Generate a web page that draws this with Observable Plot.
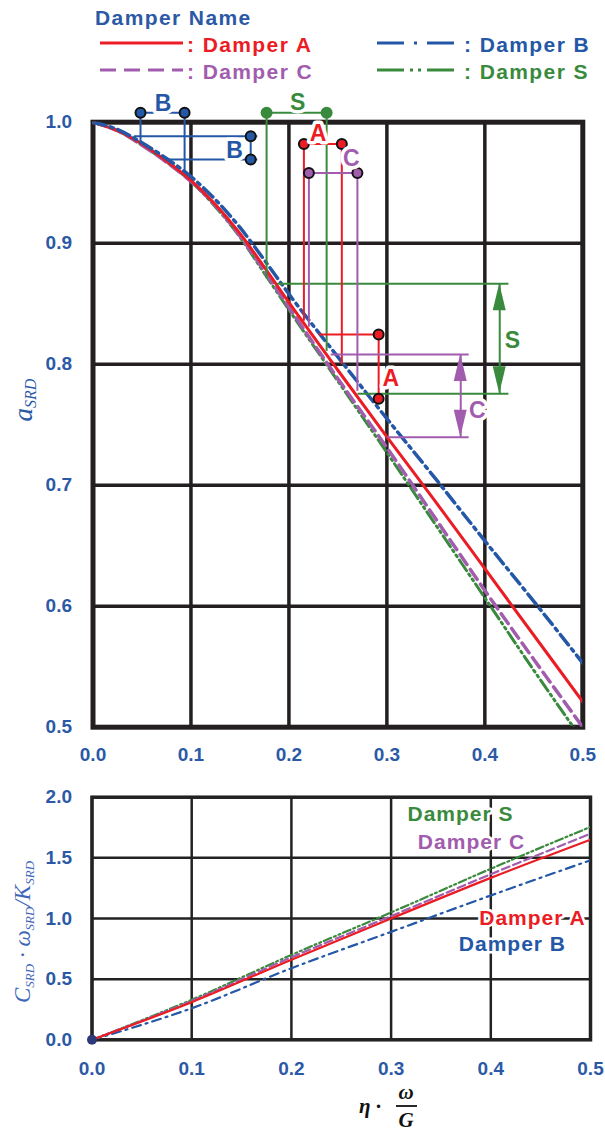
<!DOCTYPE html>
<html><head><meta charset="utf-8">
<script src="https://cdn.jsdelivr.net/npm/d3@7"></script>
<script src="https://cdn.jsdelivr.net/npm/@observablehq/plot@0.6"></script>
<style>
html,body{margin:0;padding:0;background:#fff;overflow:hidden;}
#wrap{position:relative;width:605px;height:1137px;overflow:hidden;}
#wrap > svg{position:absolute;left:0;}
</style></head>
<body><div id="wrap"></div>
<script>
// ---------------- data ----------------
const etaTop = [0,0.025,0.05,0.075,0.1,0.125,0.15,0.175,0.2,0.25,0.3,0.35,0.4,0.45,0.5];
const aSRD_A = [1.000,0.993,0.982,0.968,0.952,0.932,0.908,0.880,0.851,0.795,0.740,0.686,0.631,0.576,0.521];
const aSRD_B = [1.000,0.994,0.983,0.970,0.955,0.936,0.913,0.886,0.858,0.806,0.755,0.705,0.654,0.604,0.553];
const aSRD_C = [1.000,0.993,0.981,0.967,0.951,0.931,0.906,0.877,0.847,0.788,0.731,0.672,0.613,0.556,0.500];
const aSRD_S = [1.000,0.993,0.981,0.967,0.951,0.930,0.905,0.875,0.845,0.786,0.727,0.667,0.607,0.547,0.489];

const etaBottom = [0,0.1,0.2,0.3,0.4,0.5];
const cSRD_A = [0,0.31,0.66,1.00,1.335,1.65];
const cSRD_B = [0,0.26,0.59,0.89,1.19,1.48];
const cSRD_C = [0,0.32,0.68,1.02,1.365,1.70];
const cSRD_S = [0,0.33,0.70,1.05,1.41,1.755];

const xTicks = [0,0.1,0.2,0.3,0.4,0.5];
const yTicksTop = [0.5,0.6,0.7,0.8,0.9,1.0];
const yTicksBottom = [0,0.5,1.0,1.5,2.0];

const damperKeys = ["A","B","C","S"];
const damperNames = ["Damper A","Damper B","Damper C","Damper S"];

// annotation brackets (data units)
const bracketSegments = [
  {d:"B",x1:0.0485,y1:1.0078,x2:0.0935,y2:1.0078},
  {d:"B",x1:0.0485,y1:1.0078,x2:0.0485,y2:0.9835},
  {d:"B",x1:0.0935,y1:1.0078,x2:0.0935,y2:0.9587},
  {d:"B",x1:0.0417,y1:0.9884,x2:0.1677,y2:0.9884},
  {d:"B",x1:0.0758,y1:0.9692,x2:0.1677,y2:0.9692},
  {d:"B",x1:0.161,y1:0.9884,x2:0.161,y2:0.9692},
  {d:"S",x1:0.1772,y1:1.0078,x2:0.2385,y2:1.0078},
  {d:"S",x1:0.1772,y1:1.0078,x2:0.1772,y2:0.871},
  {d:"S",x1:0.2385,y1:1.0078,x2:0.2385,y2:0.811},
  {d:"S",x1:0.188,y1:0.8664,x2:0.4241,y2:0.8664},
  {d:"S",x1:0.270,y1:0.7755,x2:0.4241,y2:0.7755},
  {d:"A",x1:0.2153,y1:0.982,x2:0.254,y2:0.982},
  {d:"A",x1:0.2153,y1:0.982,x2:0.2153,y2:0.836},
  {d:"A",x1:0.254,y1:0.982,x2:0.254,y2:0.800},
  {d:"A",x1:0.2306,y1:0.8245,x2:0.2916,y2:0.8245},
  {d:"A",x1:0.2916,y1:0.8245,x2:0.2916,y2:0.7714},
  {d:"C",x1:0.2204,y1:0.958,x2:0.2699,y2:0.958},
  {d:"C",x1:0.2204,y1:0.958,x2:0.2204,y2:0.831},
  {d:"C",x1:0.2699,y1:0.958,x2:0.2699,y2:0.778},
  {d:"C",x1:0.2426,y1:0.808,x2:0.3835,y2:0.808},
  {d:"C",x1:0.3004,y1:0.7397,x2:0.3835,y2:0.7397}
];
const bracketArrows = [
  {d:"S",x:0.4152,y1:0.8664,y2:0.7755},
  {d:"C",x:0.3754,y1:0.808,y2:0.7397}
];
const bracketDots = [
  {d:"B",x:0.0485,y:1.0078},{d:"B",x:0.0935,y:1.0078},{d:"B",x:0.161,y:0.9884},{d:"B",x:0.161,y:0.9692},
  {d:"S",x:0.1772,y:1.0078},{d:"S",x:0.2385,y:1.0078},
  {d:"A",x:0.2153,y:0.982},{d:"A",x:0.254,y:0.982},{d:"A",x:0.2916,y:0.8245},{d:"A",x:0.2916,y:0.7714},
  {d:"C",x:0.2204,y:0.958},{d:"C",x:0.2699,y:0.958}
];
const bracketLabels = [
  {d:"B",x:0.0716,y:1.0152},{d:"B",x:0.1446,y:0.9766},
  {d:"S",x:0.2089,y:1.0165},{d:"S",x:0.4282,y:0.8196},
  {d:"A",x:0.2298,y:0.9904},{d:"A",x:0.304,y:0.788},
  {d:"C",x:0.2638,y:0.9698},{d:"C",x:0.3924,y:0.7618}
];
const bottomLabels = [
  {d:"S",text:"Damper S",x:0.3696,y:1.857},
  {d:"C",text:"Damper C",x:0.3806,y:1.627},
  {d:"A",text:"Damper A",x:0.4418,y:1.000},
  {d:"B",text:"Damper B",x:0.4217,y:0.785}
];

// ---------------- styles ----------------
const textBlue = "#2b59a6";
const gridColor = "#231f20";
const col = {A:"#ec1c24", B:"#2457a6", C:"#a25cae", S:"#3a8a3e"};
const dotStroke = {A:"#111", B:"#111", C:"#111", S:"#3a8a3e"};
const dashTop = {A:null, B:"13,5,3,5", C:"12,6", S:"13,4,2,4,2,4"};
const widthTop = {A:3, B:3.5, C:3.5, S:3};
const dashBot = {A:null, B:"9,5,2,5", C:"8,4", S:"8,3,2,3,2,3"};
const dashLeg = {A:null, B:"27,10,3,10", C:"16,8", S:"27,6,3,5,3,6"};
const sans = "'Liberation Sans', Arial, Helvetica, sans-serif";
const serif = "'Liberation Serif', 'Times New Roman', serif";

const topSeries = {A:aSRD_A, B:aSRD_B, C:aSRD_C, S:aSRD_S};
const botSeries = {A:cSRD_A, B:cSRD_B, C:cSRD_C, S:cSRD_S};
const rows = (xs, ys) => xs.map((x,i)=>({x, y:ys[i]}));

const wrap = document.getElementById("wrap");

// ---------------- legend ----------------
const leg = d3.create("svg").attr("width",605).attr("height",85).style("top","0px");
leg.append("text").attr("x",95).attr("y",25).attr("fill",textBlue)
  .attr("font-family",sans).attr("font-weight","bold").attr("font-size",21)
  .style("letter-spacing","1.4px").text("Damper Name");
damperKeys.forEach((k,i)=>{
  const cx = (i%2===0) ? 100 : 377;
  const cy = (i<2) ? 43 : 70;
  const ln = leg.append("line").attr("x1",cx).attr("x2",cx+83).attr("y1",cy).attr("y2",cy)
    .attr("stroke",col[k]).attr("stroke-width",3);
  if (dashLeg[k]) ln.attr("stroke-dasharray",dashLeg[k]);
  leg.append("text").attr("x",cx+87).attr("y",cy+9).attr("fill",col[k])
    .attr("font-family",sans).attr("font-weight","bold").attr("font-size",21)
    .style("letter-spacing","1.4px").text(": " + damperNames[i]);
});
wrap.appendChild(leg.node());

// ---------------- top chart ----------------
const topMarks = [
  Plot.gridX(xTicks,{stroke:gridColor,strokeOpacity:1,strokeWidth:3.5}),
  Plot.gridY(yTicksTop,{stroke:gridColor,strokeOpacity:1,strokeWidth:3.5}),
  Plot.frame({stroke:gridColor,strokeWidth:5}),
  Plot.axisX(xTicks,{tickSize:0,tickPadding:20,tickFormat:d3.format(".1f"),fill:textBlue,fontSize:19,fontWeight:"bold",fontFamily:sans,label:null}),
  Plot.axisY(yTicksTop,{tickSize:0,tickPadding:21,tickFormat:d3.format(".1f"),fill:textBlue,fontSize:19,fontWeight:"bold",fontFamily:sans,label:null})
];
for (const k of ["S","C","A","B"]) {
  topMarks.push(Plot.line(rows(etaTop, topSeries[k]),{x:"x",y:"y",stroke:col[k],strokeWidth:widthTop[k],
    strokeDasharray:dashTop[k]||undefined,curve:"monotone-x",clip:true}));
}
topMarks.push(
  Plot.link(bracketSegments,{x1:"x1",y1:"y1",x2:"x2",y2:"y2",stroke:d=>col[d.d],strokeWidth:2}),
  Plot.link(bracketArrows,{x1:"x",y1:"y1",x2:"x",y2:"y2",stroke:d=>col[d.d],strokeWidth:2}),
  Plot.dot(bracketDots,{x:"x",y:"y",r:5,fill:d=>col[d.d],stroke:d=>dotStroke[d.d],strokeWidth:2}),
  Plot.text(bracketLabels,{x:"x",y:"y",text:"d",fill:d=>col[d.d],fontSize:23,fontWeight:"bold",fontFamily:sans,
    stroke:"white",strokeWidth:7,paintOrder:"stroke"})
);
const topChart = Plot.plot({
  width:605, height:690,
  marginTop:36.7, marginBottom:48.3, marginLeft:92.5, marginRight:22.7,
  x:{domain:[0,0.5]}, y:{domain:[0.5,1.0]},
  style:{background:"transparent", overflow:"visible"},
  marks: topMarks
});
topChart.style.top = "85px";
wrap.appendChild(topChart);
{
  const sx = topChart.scale("x"), sy = topChart.scale("y");
  const svg = d3.select(topChart);
  for (const a of bracketArrows) {
    const x = sx.apply(a.x), yTop = sy.apply(a.y1), yBot = sy.apply(a.y2);
    const L = 27, W = 6.5;
    svg.append("path").attr("fill",col[a.d])
      .attr("d",`M${x},${yTop}L${x-W},${yTop+L}L${x+W},${yTop+L}Z`);
    svg.append("path").attr("fill",col[a.d])
      .attr("d",`M${x},${yBot}L${x-W},${yBot-L}L${x+W},${yBot-L}Z`);
  }
  // y axis title a_SRD
  const t = svg.append("text").attr("transform","translate(32,315) rotate(-90)")
    .attr("text-anchor","middle").attr("fill",textBlue)
    .attr("font-family",serif).attr("font-style","italic");
  t.append("tspan").attr("font-size",27).text("a");
  t.append("tspan").attr("font-size",16).attr("dy",4).text("SRD");
}

// ---------------- bottom chart ----------------
const botMarks = [
  Plot.gridX(xTicks,{stroke:"#222",strokeOpacity:1,strokeWidth:2.5}),
  Plot.gridY(yTicksBottom,{stroke:"#222",strokeOpacity:1,strokeWidth:2.5}),
  Plot.frame({stroke:"#222",strokeWidth:3.5}),
  Plot.axisX(xTicks,{tickSize:0,tickPadding:22,tickFormat:d3.format(".1f"),fill:textBlue,fontSize:19,fontWeight:"bold",fontFamily:sans,label:null}),
  Plot.axisY(yTicksBottom,{tickSize:0,tickPadding:20,tickFormat:d3.format(".1f"),fill:textBlue,fontSize:19,fontWeight:"bold",fontFamily:sans,label:null})
];
for (const k of ["B","S","C","A"]) {
  botMarks.push(Plot.line(rows(etaBottom, botSeries[k]),{x:"x",y:"y",stroke:col[k],strokeWidth:2.2,
    strokeDasharray:dashBot[k]||undefined,curve:"monotone-x",clip:true}));
}
botMarks.push(
  Plot.dot(rows(etaBottom, cSRD_A).slice(0,1),{x:"x",y:"y",r:5,fill:"#2e3a78"}),
  Plot.text(bottomLabels,{x:"x",y:"y",text:"text",fill:d=>col[d.d],fontSize:21,fontWeight:"bold",fontFamily:sans,
    stroke:"white",strokeWidth:5,paintOrder:"stroke"})
);
const botChart = Plot.plot({
  width:605, height:362,
  marginTop:21.7, marginBottom:97.7, marginLeft:91.5, marginRight:15,
  x:{domain:[0,0.5]}, y:{domain:[0,2]},
  style:{background:"transparent", overflow:"visible"},
  marks: botMarks
});
botChart.style.top = "775px";
wrap.appendChild(botChart);
{
  const svg = d3.select(botChart);
  svg.selectAll("g[aria-label='text'] text").style("letter-spacing","1px");
  // y axis title C_SRD · ω_SRD / K_SRD
  const t = svg.append("text").attr("transform","translate(30,157) rotate(-90)")
    .attr("text-anchor","middle").attr("fill","#3f67b8")
    .attr("font-family",serif).attr("font-style","italic");
  t.append("tspan").attr("font-size",23).text("C");
  t.append("tspan").attr("font-size",13).attr("dy",4).text("SRD");
  t.append("tspan").attr("font-size",23).attr("dy",-4).text(" · ω");
  t.append("tspan").attr("font-size",13).attr("dy",4).text("SRD");
  t.append("tspan").attr("font-size",23).attr("dy",-4).text("/K");
  t.append("tspan").attr("font-size",13).attr("dy",4).text("SRD");
  // x axis title η · ω / G
  const g = svg.append("g").attr("fill","#111").attr("font-family",serif)
    .attr("font-style","italic").attr("font-weight","bold").attr("font-size",21);
  g.append("text").attr("x",381).attr("y",338).attr("text-anchor","end").text("η ·");
  g.append("text").attr("x",406).attr("y",324).attr("text-anchor","middle").text("ω");
  g.append("line").attr("x1",396).attr("x2",417).attr("y1",331).attr("y2",331).attr("stroke","#111").attr("stroke-width",1.8);
  g.append("text").attr("x",406).attr("y",352).attr("text-anchor","middle").text("G");
}
</script></body></html>
